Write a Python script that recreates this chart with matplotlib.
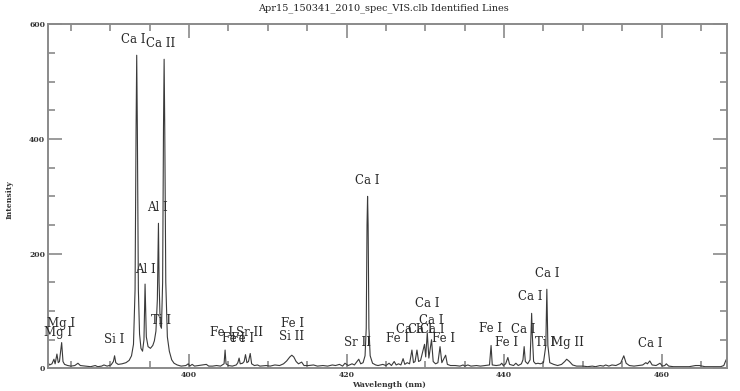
import matplotlib
matplotlib.use("Agg")
import matplotlib.pyplot as plt
from matplotlib.ticker import MultipleLocator

# ---- data ----
wavelength = [
    382.1, 382.3, 382.6, 382.85, 383.0, 383.23, 383.4, 383.55, 383.83, 384.0,
    384.2, 384.6, 385.0, 385.5, 385.9, 386.2, 386.8, 387.5, 388.1, 388.4,
    388.9, 389.2, 389.6, 390.1, 390.4, 390.55, 390.7, 391.0, 391.5, 392.0,
    392.4, 392.7, 392.95, 393.15, 393.28, 393.36, 393.44, 393.57, 393.72, 393.9,
    394.1, 394.28, 394.36, 394.42, 394.48, 394.58, 394.8, 395.1, 395.4, 395.6,
    395.8, 395.98, 396.06, 396.12, 396.2, 396.35, 396.5, 396.65, 396.76, 396.84,
    396.92, 397.05, 397.25, 397.5, 397.8, 398.1, 398.5, 399.0, 399.6, 399.9,
    400.1, 400.4, 400.7, 401.2, 402.2, 402.5, 403.0, 403.5, 404.0, 404.45,
    404.58, 404.7, 405.0, 405.5, 406.0, 406.2, 406.36, 406.5, 406.8, 407.0,
    407.17, 407.35, 407.55, 407.77, 407.95, 408.3, 408.7, 409.0, 409.8, 410.3,
    410.9, 411.5, 412.0, 412.4, 412.8, 413.05, 413.3, 413.6, 413.9, 414.3,
    414.6, 415.2, 415.8, 416.3, 417.0, 417.6, 418.2, 418.6, 419.1, 419.5,
    419.8, 420.2, 420.7, 421.0, 421.55, 421.8, 422.1, 422.35, 422.5, 422.6,
    422.67, 422.74, 422.84, 423.0, 423.3, 423.7, 424.0, 424.6, 425.0, 425.4,
    425.7, 426.05, 426.3, 426.6, 426.9, 427.18, 427.4, 427.7, 428.0, 428.3,
    428.5, 428.7, 428.94, 429.15, 429.4, 429.9, 430.05, 430.25, 430.45, 430.79,
    431.0, 431.3, 431.6, 431.87, 432.1, 432.58, 432.8, 433.2, 433.8, 434.4,
    434.8, 435.0, 435.4, 435.8, 436.5, 437.0, 437.6, 438.15, 438.35, 438.5,
    439.0, 439.5, 439.7, 439.9, 440.2, 440.48, 440.7, 441.2, 441.5, 441.8,
    442.2, 442.4, 442.55, 442.7, 443.0, 443.3, 443.42, 443.5, 443.58, 443.75,
    444.0, 444.3, 444.6, 445.0, 445.3, 445.43, 445.56, 445.8, 446.3, 446.8,
    447.3, 447.7, 447.95, 448.3, 448.7, 449.2, 450.0, 450.6, 451.2, 451.6,
    452.2, 452.6, 452.9, 453.3, 453.7, 454.2, 454.8, 455.2, 455.5, 455.9,
    456.5, 457.1, 457.6, 458.0, 458.2, 458.5, 458.8, 459.3, 459.8, 460.1,
    460.4, 460.6, 460.9, 461.5, 462.5, 463.5, 464.3, 464.8, 465.5, 466.5,
    467.5, 467.9, 468.1, 468.3,
]
intensity = [
    10, 6, 8, 16, 8, 25, 10, 12, 45, 12,
    7, 5, 4, 5, 9, 5, 4, 3, 5, 3,
    4, 6, 4, 6, 12, 22, 10, 7, 8, 10,
    14, 22, 42, 137, 420, 546, 420, 137, 60, 35,
    30, 50, 110, 147, 110, 55, 38, 35, 40, 48,
    65, 120, 200, 253, 150, 75, 70, 150, 420, 539,
    420, 150, 55, 30, 15, 9, 6, 4, 5, 8,
    4, 7, 4, 5, 7, 4, 4, 5, 4, 8,
    32, 8, 5, 4, 6, 10, 18, 8, 9, 12,
    24, 10, 12, 26, 8, 5, 6, 4, 5, 4,
    6, 5, 8, 13, 20, 23, 20, 12, 8, 11,
    5, 5, 6, 4, 5, 4, 6, 5, 7, 4,
    9, 5, 8, 6, 16, 8, 10, 22, 70, 250,
    300, 250, 70, 22, 9, 6, 5, 7, 5, 9,
    5, 12, 6, 8, 6, 17, 7, 10, 8, 32,
    10, 12, 32, 12, 14, 42, 20, 62, 18, 50,
    12, 8, 10, 38, 10, 23, 7, 5, 5, 4,
    6, 4, 6, 4, 5, 4, 5, 6, 40, 6,
    5, 6, 9, 5, 8, 19, 7, 5, 9, 5,
    8, 15, 38, 12, 8, 15, 60, 96, 60, 12,
    8, 9, 8, 10, 40, 138, 40, 10, 7, 5,
    7, 12, 16, 12, 6, 4, 4, 3, 4, 3,
    5, 4, 6, 4, 6, 5, 9, 22, 9, 5,
    4, 5, 6, 10, 8, 13, 6, 5, 9, 4,
    5, 8, 4, 3, 3, 3, 5, 5, 3, 3,
    3, 5, 12, 18,
]

# identified-line labels: text, wavelength, intensity of label
label_text = ["Mg I", "Mg I", "Si I", "Ca I", "Ca II", "Al I", "Al I", "Ti I",
              "Fe I", "Sr II", "Fe I", "Fe I", "Fe I", "Si II", "Sr II", "Ca I",
              "Fe I", "Ca I", "Ca I", "Ca I", "Ca I", "Ca I", "Fe I",
              "Fe I", "Fe I", "Ca I", "Ca I", "Ca I", "Ti I", "Mg II", "Ca I"]
label_wl = [383.76, 383.38, 390.48, 392.96, 396.45, 396.0, 394.42, 396.45,
            404.19, 407.74, 405.6, 406.85, 413.2, 413.07, 421.45, 422.65,
            426.52, 427.79, 429.31, 430.84, 430.2, 430.71, 432.36,
            438.32, 440.36, 442.39, 443.27, 445.43, 445.18, 448.1, 458.5]
label_int = [79, 62, 50, 574, 567, 280, 173, 84,
             63, 62, 53, 53, 79, 55, 46, 328,
             53, 67, 67, 67, 114, 84, 53,
             69, 46, 67, 125, 166, 46, 46, 44]

title = "Apr15_150341_2010_spec_VIS.clb Identified Lines"
x_label = "Wavelength (nm)"
y_label = "Intensity"

# ---- figure ----
fig = plt.figure(figsize=(7.4, 3.91), dpi=100)
ax = fig.add_axes([0.0649, 0.0578, 0.9175, 0.8801])

axis_col = "#8a8a8a"
ax.plot(wavelength, intensity, color="#3a3a3a", lw=0.8)

ax.set_xlim(382.1, 468.3)
ax.set_ylim(0, 600)

for s in ax.spines.values():
    s.set_color(axis_col)
    s.set_linewidth(1.4)

ax.xaxis.set_major_locator(MultipleLocator(20))
ax.xaxis.set_minor_locator(MultipleLocator(5))
ax.yaxis.set_major_locator(MultipleLocator(200))
ax.yaxis.set_minor_locator(MultipleLocator(50))
ax.tick_params(which="both", direction="in", top=True, right=True,
               color=axis_col, width=1.2)
ax.tick_params(which="major", length=10)
ax.tick_params(which="minor", length=5)
ax.tick_params(axis="both", which="major", labelsize=5.5, labelcolor="#333333",
               pad=2)
for lab in ax.get_xticklabels() + ax.get_yticklabels():
    lab.set_family("DejaVu Serif")
    lab.set_fontweight("bold")

for t, w, v in zip(label_text, label_wl, label_int):
    ax.text(w, v, t, ha="center", va="center", family="DejaVu Serif",
            fontsize=8.5, color="#2a2a2a")

fig.text(0.5175, 0.978, title, ha="center", va="center",
         family="DejaVu Serif", fontsize=7, color="#222222")
fig.text(0.525, 0.015, x_label, ha="center", va="center",
         family="DejaVu Serif", fontsize=5.5, fontweight="bold", color="#333333")
fig.text(0.013, 0.49, y_label, ha="center", va="center", rotation=90,
         family="DejaVu Serif", fontsize=5.5, fontweight="bold", color="#333333")

fig.savefig("out.png", dpi=100, facecolor="white")
